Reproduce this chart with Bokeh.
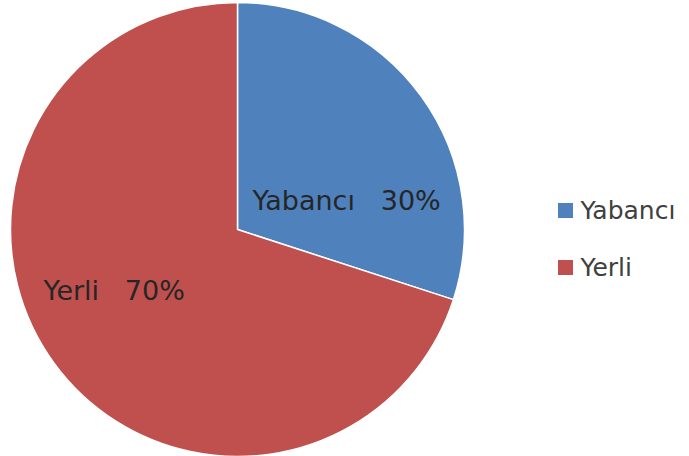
import math
from bokeh.plotting import figure
from bokeh.models import ColumnDataSource
from bokeh.core.properties import value
from bokeh.embed import file_html
from bokeh.resources import INLINE

categories = ["Yabancı", "Yerli"]
shares = [30, 70]
colors = ["#4F81BD", "#C0504D"]

W, H = 689, 456
total = sum(shares)
starts, ends = [], []
acc = 0.0
for s in shares:
    end = math.pi / 2 - acc / total * 2 * math.pi
    acc += s
    start = math.pi / 2 - acc / total * 2 * math.pi
    starts.append(start)
    ends.append(end)

gap = "\u00a0\u00a0\u00a0"
labels = [f"{c}{gap}{s}%" for c, s in zip(categories, shares)]
src = ColumnDataSource(dict(cat=categories, val=shares, color=colors,
                            start=starts, end=ends, label=labels,
                            lx=[252, 43], ly=[256, 166],
                            gx=[565, 565], gy=[246, 189], tx=[580, 580]))

p = figure(width=W, height=H, x_range=(0, W), y_range=(0, H),
           output_backend="svg", toolbar_location=None, min_border=0)
p.axis.visible = False
p.grid.visible = False
p.outline_line_color = None
p.background_fill_color = "white"
p.border_fill_color = "white"

p.wedge(x=237, y=227, radius=227, start_angle="start", end_angle="end",
        fill_color="color", line_color="white", line_width=1.5, source=src)

p.text(x="lx", y="ly", text="label", source=src, text_font=value("DejaVu Sans"),
       text_font_size="27px", text_baseline="middle", text_align="left",
       text_color="#262626")

p.scatter(x="gx", y="gy", marker="square", size=15, fill_color="color",
          line_color=None, source=src)
p.text(x="tx", y="gy", text="cat", source=src, text_font=value("DejaVu Sans"),
       text_font_size="25px", text_baseline="middle", text_align="left",
       text_color="#404040")

open("out.html", "w").write(file_html(p, INLINE))
